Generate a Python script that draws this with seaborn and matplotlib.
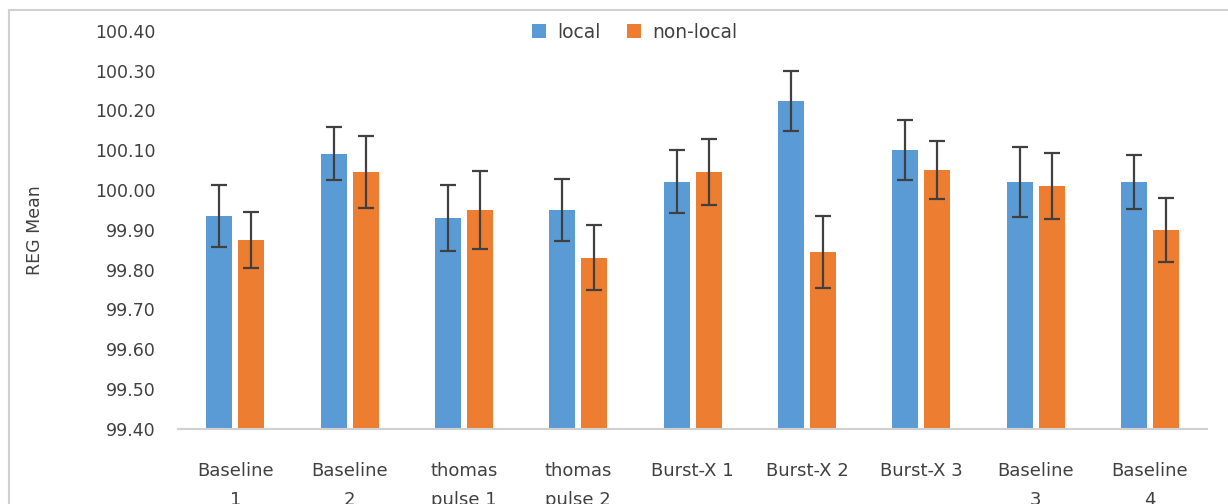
import pandas as pd
import matplotlib
matplotlib.use("Agg")
import matplotlib.pyplot as plt
import seaborn as sns
from matplotlib.patches import Rectangle

# data
conditions = ["Baseline\n1", "Baseline\n2", "thomas\npulse 1", "thomas\npulse 2",
              "Burst-X 1", "Burst-X 2", "Burst-X 3", "Baseline\n3", "Baseline\n4"]
local_mean = [99.935, 100.091, 99.930, 99.950, 100.021, 100.224, 100.101, 100.021, 100.021]
local_err = [0.078, 0.066, 0.083, 0.078, 0.080, 0.076, 0.076, 0.088, 0.068]
nonlocal_mean = [99.875, 100.046, 99.950, 99.830, 100.046, 99.845, 100.051, 100.011, 99.900]
nonlocal_err = [0.070, 0.090, 0.098, 0.082, 0.083, 0.090, 0.073, 0.083, 0.080]
groups = ["local", "non-local"]
colors = ["#5B9BD5", "#ED7D31"]
y_ticks = [99.4 + 0.1 * i for i in range(11)]

sns.set_style("white")
plt.rcParams['font.family'] = ['DejaVu Sans']
plt.rcParams['text.color'] = '#404040'

df = pd.DataFrame({
    "cond": conditions * 2,
    "group": [groups[0]] * len(conditions) + [groups[1]] * len(conditions),
    "mean": local_mean + nonlocal_mean,
})
errs = {groups[0]: local_err, groups[1]: nonlocal_err}

fig = plt.figure(figsize=(12.28, 5.04), dpi=100)
ax = fig.add_axes([0.145, 0.149, 0.838, 0.790])

sns.barplot(data=df, x="cond", y="mean", hue="group", order=conditions,
            hue_order=groups, palette=colors, width=0.56, gap=0.19,
            errorbar=None, saturation=1, linewidth=0, ax=ax)

# error bars on top of each bar
for cont, g in zip(ax.containers, groups):
    xs = [p.get_x() + p.get_width() / 2 for p in cont.patches]
    ys = [p.get_height() for p in cont.patches]
    ax.errorbar(xs, ys, yerr=errs[g], fmt='none', ecolor='#404040',
                elinewidth=1.6, capsize=5.5, capthick=1.6, zorder=5)

ax.set_ylim(99.4, 100.4)
ax.set_yticks(y_ticks)
ax.set_yticklabels([f"{v:.2f}" for v in y_ticks])
ax.set_xlim(-0.5, len(conditions) - 0.5)
ax.set_xlabel("")
ax.set_ylabel("REG Mean", fontsize=12.5, color='#404040')
ax.yaxis.set_label_coords(-0.130, 0.5)

for s in ["top", "right", "left"]:
    ax.spines[s].set_visible(False)
ax.spines["bottom"].set_color('#d0d0d0')
ax.spines["bottom"].set_linewidth(1.5)
ax.tick_params(axis='y', length=0, pad=16, labelsize=12.5, labelcolor='#404040')
ax.tick_params(axis='x', length=0, pad=24, labelsize=13, labelcolor='#404040')
for t in ax.get_xticklabels():
    t.set_linespacing(1.75)
    t.set_verticalalignment('top')

ax.legend(loc='center', bbox_to_anchor=(0.517, 0.936), bbox_transform=fig.transFigure,
          ncol=2, frameon=False, fontsize=13.5, handlelength=0.75, handleheight=0.75,
          handletextpad=0.6, columnspacing=1.4)

# chart frame (partially cut off in the reference)
fig.patches.append(Rectangle((9 / 1228, -0.1), 1.2, 1.1 - 10 / 504, transform=fig.transFigure,
                             fill=False, ec='#d0d0d0', lw=1.5))

fig.savefig("out.png", dpi=100)
